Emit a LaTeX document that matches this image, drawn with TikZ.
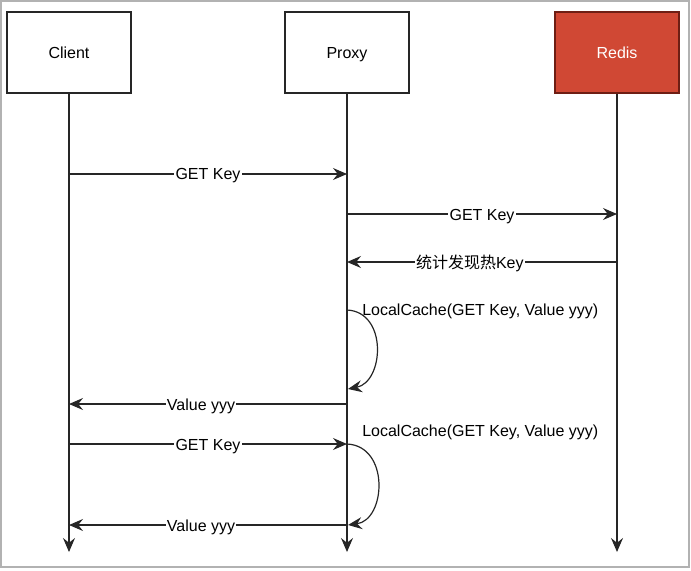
\documentclass[tikz,border=0pt]{standalone}
\usepackage{fontspec}
\setmainfont{Liberation Sans}
\newfontfamily\cjk{Noto Sans CJK SC}
\usetikzlibrary{arrows.meta}
\definecolor{redisred}{RGB}{208,72,52}
\definecolor{redisborder}{RGB}{110,30,20}
\tikzset{
  actor/.style={draw=black!85, line width=0.9pt, minimum width=124*0.75pt, minimum height=81*0.75pt, inner sep=0pt, text height=10pt, text depth=1pt, font=\fontsize{12}{14}\selectfont},
  tip/.style={-{Stealth[length=10.5pt,width=9pt,inset=3.6pt]}},
  life/.style={draw=black!85, line width=0.9pt, tip},
  msg/.style={draw=black!85, line width=0.9pt, tip},
  lbl/.style={fill=white, inner sep=1pt, text height=10pt, text depth=1pt, font=\fontsize{12}{14}\selectfont},
  note/.style={inner sep=0pt, anchor=west, font=\fontsize{12}{14}\selectfont}
}
\begin{document}
\begin{tikzpicture}[x=0.75pt, y=-0.75pt]
\useasboundingbox (0,0) rectangle (691,570);
\draw[gray!60, line width=1pt] (1,1) rectangle (689,567);
% actors
\node[actor] (client) at (69,52.5) {Client};
\node[actor] (proxy) at (347,52.5) {Proxy};
\node[actor, fill=redisred, draw=redisborder, text=white] (redis) at (617,52.5) {Redis};
% lifeline ends
\coordinate (cend) at (69,552);
\coordinate (pend) at (347,552);
\coordinate (rend) at (617,552);
\draw[life] (client.south) -- (cend);
\draw[life] (proxy.south) -- (pend);
\draw[life] (redis.south) -- (rend);
% message points
\coordinate (c1) at (69,174);  \coordinate (p1) at (347,174);
\coordinate (p2) at (347,214); \coordinate (r2) at (617,214);
\coordinate (r3) at (617,262); \coordinate (p3) at (347,262);
\coordinate (p4a) at (347,310); \coordinate (p4b) at (348,389);
\coordinate (p5) at (347,404); \coordinate (c5) at (69,404);
\coordinate (c6) at (69,444);  \coordinate (p6) at (347,444);
\coordinate (p7b) at (348,525);
\coordinate (p8) at (347,525); \coordinate (c8) at (69,525);
% messages
\draw[msg] (c1) -- node[lbl] (m1) {GET Key} (p1);
\draw[msg] (p2) -- node[lbl] (m2) {GET Key} (r2);
\draw[msg] (r3) -- node[lbl, pos=0.545] (m3) {{\cjk 统计发现热}Key} (p3);
\draw[msg] (p4a) .. controls (388,312) and (384,382) .. (p4b);
\node[note] (n1) at (362,311) {LocalCache(GET Key, Value yyy)};
\draw[msg] (p5) -- node[lbl, pos=0.525] (m4) {Value yyy} (c5);
\draw[msg] (c6) -- node[lbl] (m5) {GET Key} (p6);
\draw[msg] (p6) .. controls (390,446) and (386,520) .. (p7b);
\node[note] (n2) at (362,432) {LocalCache(GET Key, Value yyy)};
\draw[msg] (p8) -- node[lbl, pos=0.525] (m6) {Value yyy} (c8);
\end{tikzpicture}
\end{document}
